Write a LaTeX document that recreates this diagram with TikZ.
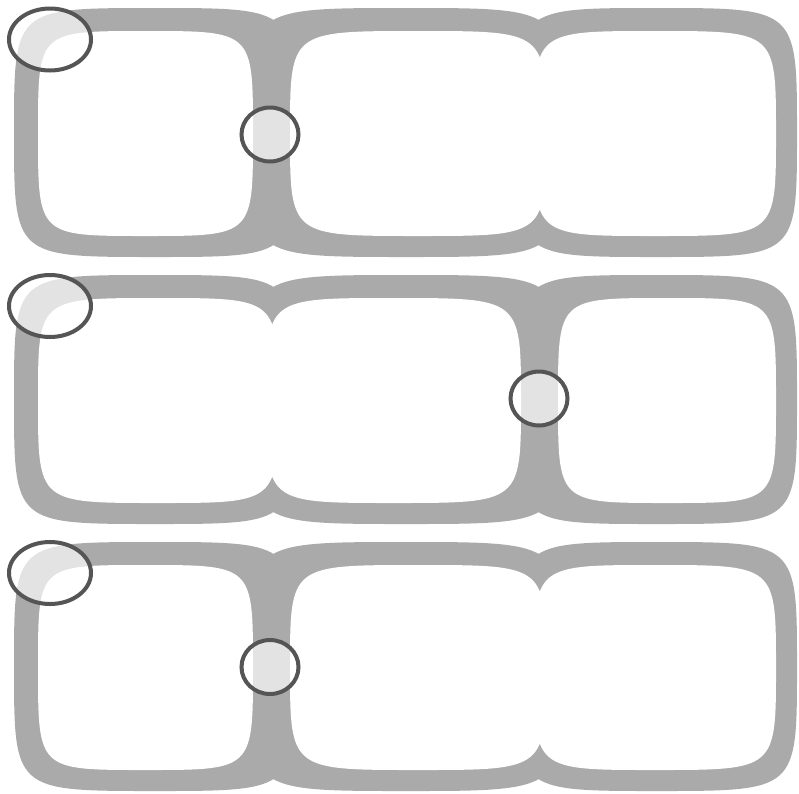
\documentclass[tikz,border=0pt]{standalone}
\usepackage{xcolor}
\usepackage{tikz}
\definecolor{bandgray}{RGB}{170,170,170}
\definecolor{lensgray}{RGB}{85,85,85}

% squircle cell: style, left, top, right, bottom
\newcommand{\cellfill}[5]{%
  \fill[#1] ({(#2+#4)/2},{#3}) .. controls ({#4},{#3}) .. ({#4},{(#3+#5)/2})
    .. controls ({#4},{#5}) .. ({(#2+#4)/2},{#5})
    .. controls ({#2},{#5}) .. ({#2},{(#3+#5)/2})
    .. controls ({#2},{#3}) .. ({(#2+#4)/2},{#3}) -- cycle;}

\begin{document}
\begin{tikzpicture}[
  x=1pt, y=-1pt,
  band/.style={fill=bandgray},
  hole/.style={fill=white},
  lens/.style={draw=lensgray, line width=4, fill=white, fill opacity=0.68}
]
  \useasboundingbox (0,0) rectangle (799,793);

  % Outer bands, same for all three rows
  \foreach \dy in {0,267,534} {
    \cellfill{band}{14}{8+\dy}{296}{257+\dy}
    \cellfill{band}{248}{8+\dy}{564}{257+\dy}
    \cellfill{band}{516}{8+\dy}{797}{257+\dy}
  }

  % Row 1: cells 2 and 3 joined
  \cellfill{hole}{38}{31}{253}{236}
  \cellfill{hole}{290}{31}{546}{236}
  \cellfill{hole}{534}{31}{776}{236}

  % Row 2: cells 1 and 2 joined
  \cellfill{hole}{38}{298}{278}{503}
  \cellfill{hole}{266}{298}{521}{503}
  \cellfill{hole}{558}{298}{776}{503}

  % Row 3: as row 1
  \cellfill{hole}{38}{565}{253}{770}
  \cellfill{hole}{290}{565}{546}{770}
  \cellfill{hole}{534}{565}{776}{770}

  % Highlight rings
  \draw[lens] (50,39.5) ellipse [x radius=41, y radius=31];
  \draw[lens] (270,134.5) ellipse [x radius=28.5, y radius=27];
  \draw[lens] (50,306) ellipse [x radius=41, y radius=31];
  \draw[lens] (539,398.5) ellipse [x radius=28.5, y radius=27];
  \draw[lens] (50,573) ellipse [x radius=41, y radius=31];
  \draw[lens] (270,667) ellipse [x radius=28.5, y radius=27];

\end{tikzpicture}
\end{document}
